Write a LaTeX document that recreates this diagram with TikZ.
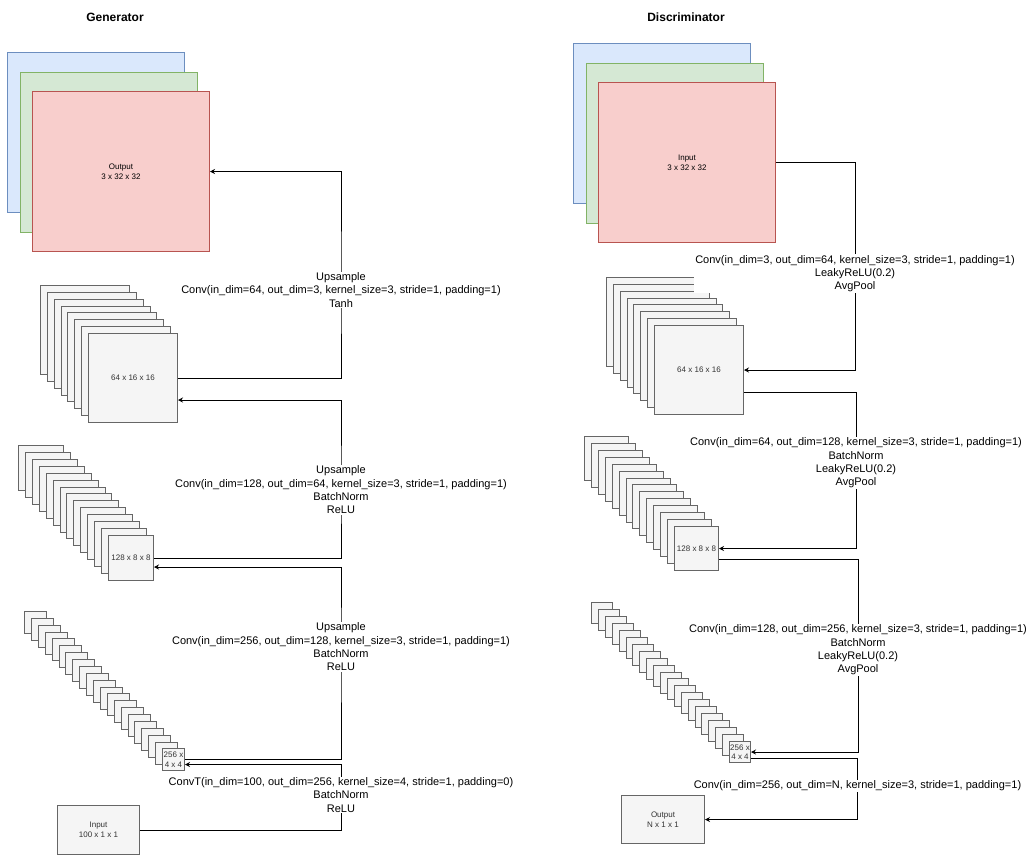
\documentclass[tikz,border=0pt]{standalone}
\usepackage{fontspec}
\setmainfont{Liberation Sans}
\usetikzlibrary{arrows.meta}
\definecolor{chB}{HTML}{DAE8FC}
\definecolor{chBd}{HTML}{6C8EBF}
\definecolor{chG}{HTML}{D5E8D4}
\definecolor{chGd}{HTML}{82B366}
\definecolor{chR}{HTML}{F8CECC}
\definecolor{chRd}{HTML}{B85450}
\definecolor{fmfill}{HTML}{F5F5F5}
\definecolor{fmline}{HTML}{666666}
\definecolor{fmtext}{HTML}{333333}
\newcommand{\fsz}{\fontsize{8}{9.6}\selectfont}
\newcommand{\lsz}{\fontsize{11}{13.3}\selectfont}

\begin{document}
\begin{tikzpicture}[x=1pt,y=-1pt,
  chan/.style={draw,line width=1pt,anchor=north west,minimum width=177pt,minimum height=160pt,inner sep=0pt,font=\fsz,align=center},
  fmap/.style={draw=fmline,fill=fmfill,line width=1pt,anchor=north west,inner sep=1pt,text=fmtext,font=\fsz,align=center},
  conn/.style={line width=1pt,-{Stealth[length=5pt,width=5pt]}},
  lbl/.style={fill=white,inner sep=1pt,font=\lsz,align=center},
  ttl/.style={font=\fontsize{12}{14}\selectfont\bfseries}]
  \useasboundingbox (0,0) rectangle (1030,855);
  \node[ttl] (tgen) at (115,17) {Generator};
  \node[ttl] (tdis) at (686,17) {Discriminator};

  \node[chan,fill=chB,draw=chBd] (gout-b) at (7,52) {};
  \node[chan,fill=chG,draw=chGd] (gout-g) at (20,72) {};
  \node[chan,fill=chR,draw=chRd] (gout-r) at (32,91) {Output\\3 x 32 x 32};

  \foreach \i in {0,...,6}
    \node[fmap,minimum size=89pt] (g64-\i) at ({40+6.86*\i},{285+6.86*\i}) {};
  \node[fmap,minimum size=89pt] (g64) at (88,333) {64 x 16 x 16};
  \foreach \i in {0,...,12}
    \node[fmap,minimum size=45pt] (g128-\i) at ({18+6.92*\i},{445+6.92*\i}) {};
  \node[fmap,minimum size=45pt] (g128) at (108,535) {128 x 8 x 8};
  \foreach \i in {0,...,19}
    \node[fmap,minimum size=22pt] (g256-\i) at ({24+6.9*\i},{611+6.87*\i}) {};
  \node[fmap,minimum size=22pt,inner sep=0pt] (g256) at (162,748) {256 x\\4 x 4};
  \node[fmap,minimum width=82pt,minimum height=49pt] (ginp) at (57,805) {Input\\100 x 1 x 1};

  \coordinate (k1) at (341,290);
  \coordinate (k2) at (341,490);
  \coordinate (k3) at (341,647);
  \coordinate (k4) at (341,795);
  \draw[conn] (g64.east) -| (k1) |- (gout-r.east);
  \draw[conn] (g128.east) -| (k2) |- ([yshift=-22pt]g64.east);
  \draw[conn] (g256.east) -| (k3) |- ([yshift=-9pt]g128.east);
  \draw[conn] (ginp.east) -| (k4) |- ([yshift=-5pt]g256.east);
  \node[lbl] (lab1) at (k1) {Upsample\\Conv(in\_dim=64, out\_dim=3, kernel\_size=3, stride=1, padding=1)\\Tanh};
  \node[lbl] (lab2) at (k2) {Upsample\\Conv(in\_dim=128, out\_dim=64, kernel\_size=3, stride=1, padding=1)\\BatchNorm\\ReLU};
  \node[lbl] (lab3) at (k3) {Upsample\\Conv(in\_dim=256, out\_dim=128, kernel\_size=3, stride=1, padding=1)\\BatchNorm\\ReLU};
  \node[lbl] (lab4) at (k4) {ConvT(in\_dim=100, out\_dim=256, kernel\_size=4, stride=1, padding=0)\\BatchNorm\\ReLU};

  \node[chan,fill=chB,draw=chBd] (dinp-b) at (573,43) {};
  \node[chan,fill=chG,draw=chGd] (dinp-g) at (586,63) {};
  \node[chan,fill=chR,draw=chRd] (dinp-r) at (598,82) {Input\\3 x 32 x 32};

  \foreach \i in {0,...,6}
    \node[fmap,minimum size=89pt] (d64-\i) at ({606+6.86*\i},{277+6.86*\i}) {};
  \node[fmap,minimum size=89pt] (d64) at (654,325) {64 x 16 x 16};
  \foreach \i in {0,...,12}
    \node[fmap,minimum size=44pt] (d128-\i) at ({584+6.92*\i},{436+6.92*\i}) {};
  \node[fmap,minimum size=44pt] (d128) at (674,526) {128 x 8 x 8};
  \foreach \i in {0,...,19}
    \node[fmap,minimum size=21pt] (d256-\i) at ({591+6.9*\i},{602+6.95*\i}) {};
  \node[fmap,minimum size=21pt,inner sep=0pt] (d256) at (729,741) {256 x\\4 x 4};
  \node[fmap,minimum width=83pt,minimum height=48pt] (dout) at (621,795) {Output\\N x 1 x 1};

  \coordinate (m1) at (855,273.5);
  \coordinate (m2) at (856,463);
  \coordinate (m3) at (858,650);
  \coordinate (m4) at (857.5,786);
  \draw[conn] (dinp-r.east) -| (m1) |- (d64.east);
  \draw[conn] ([yshift=-22pt]d64.east) -| (m2) |- (d128.east);
  \draw[conn] ([yshift=-11pt]d128.east) -| (m3) |- (d256.east);
  \draw[conn] ([yshift=-6pt]d256.east) -| (m4) |- (dout.east);
  \node[lbl] (dlab1) at (m1) {Conv(in\_dim=3, out\_dim=64, kernel\_size=3, stride=1, padding=1)\\LeakyReLU(0.2)\\AvgPool};
  \node[lbl] (dlab2) at (m2) {Conv(in\_dim=64, out\_dim=128, kernel\_size=3, stride=1, padding=1)\\BatchNorm\\LeakyReLU(0.2)\\AvgPool};
  \node[lbl] (dlab3) at (m3) {Conv(in\_dim=128, out\_dim=256, kernel\_size=3, stride=1, padding=1)\\BatchNorm\\LeakyReLU(0.2)\\AvgPool};
  \node[lbl] (dlab4) at (m4) {Conv(in\_dim=256, out\_dim=N, kernel\_size=3, stride=1, padding=1)};
\end{tikzpicture}
\end{document}
